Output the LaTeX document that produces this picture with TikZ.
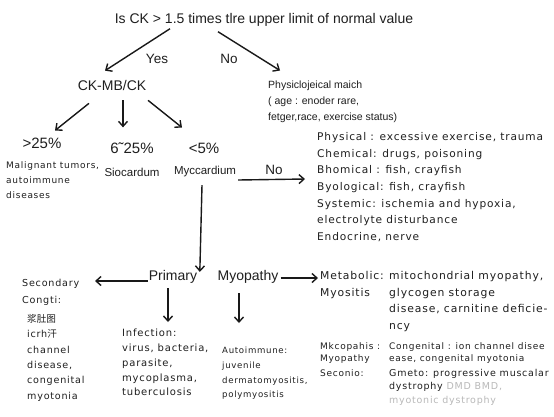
\documentclass[tikz,border=0pt]{standalone}
\usepackage{fontspec}
\setmainfont{DejaVu Sans}
\newfontfamily\lib{Liberation Sans}
\newfontfamily\dv[LetterSpace=8]{DejaVu Sans}
\newfontfamily\cjk{Noto Sans CJK SC}
\usetikzlibrary{arrows.meta}
\begin{document}
\begin{tikzpicture}[x=1pt,y=-1pt,
  every node/.style={inner sep=0pt, text=black!88},
  arr/.style={line width=1.4pt, black!90, -{Straight Barb[length=5pt,width=9pt]}},
  hd/.style={font=\lib\fontsize{14}{16}\selectfont},
  lbA/.style={font=\lib\fontsize{13.5}{16}\selectfont},
  lbB/.style={font=\lib\fontsize{11.5}{14}\selectfont},
  pct/.style={font=\lib\fontsize{15}{17}\selectfont},
  blk/.style={anchor=north west, align=left}]
\useasboundingbox (0,0) rectangle (554,416);
\fill[white] (0,0) rectangle (554,416);

\node[hd] (title) at (264,20) {Is CK > 1.5 times tlre upper limit of normal value};
\node[lbA] (yes) at (157,59) {Yes};
\node[lbA] (no1) at (229,59) {No};
\node[hd] (ckmb) at (112,85) {CK-MB/CK};
\node[blk, font=\lib\fontsize{10.5}{16}\selectfont] (phys) at (268,80.5)
  {Physiclojeical maich\\( age : enoder rare,\\fetger,race, exercise status)};
\node[pct] (p25) at (42,143) {>25\%};
\node[pct] (p6) at (132,148) {6˜25\%};
\node[pct] (p5) at (204,148) {<5\%};
\node[blk, font=\dv\fontsize{9}{15}\selectfont] (malig) at (6,161)
  {Malignant tumors,\\autoimmune\\diseases};
\node[lbB] (sio) at (132,172) {Siocardum};
\node[lbB] (myc) at (205,172) {Myccardium};
\node[lbA] (no2) at (274,170) {No};
\node[blk, font=\dv\fontsize{10.6}{16.6}\selectfont] (causes) at (317,132.5)
  {Physical : excessive exercise, trauma\\Chemical: drugs, poisoning\\Bhomical : fish, crayfish\\Byological: fish, crayfish\\Systemic: ischemia and hypoxia,\\electrolyte disturbance\\Endocrine, nerve};
\node[hd] (prim) at (173,277) {Primary};
\node[hd] (myop) at (248,277) {Myopathy};
\node[blk, font=\dv\fontsize{9.6}{17}\selectfont] (sec) at (22,279) {Secondary\\Congti:};
\node[blk, font=\dv\fontsize{9.6}{15.4}\selectfont] (cong) at (27,314)
  {{\cjk 浆肚图}\\icrh{\cjk 汗}\\channel\\disease,\\congenital\\myotonia};
\node[blk, font=\dv\fontsize{10}{14.8}\selectfont] (inf) at (122,328.8)
  {Infection:\\virus, bacteria,\\parasite,\\mycoplasma,\\tuberculosis};
\node[blk, font=\dv\fontsize{8.6}{14.7}\selectfont] (auto) at (222,347)
  {Autoimmune:\\juvenile\\dermatomyositis,\\polymyositis};
\node[blk, font=\dv\fontsize{10.8}{16.4}\selectfont] (metab) at (320,271.5) {Metabolic:\\Myositis};
\node[blk, font=\dv\fontsize{10.8}{16.4}\selectfont] (mito) at (389,271.5)
  {mitochondrial myopathy,\\glycogen storage\\disease, carnitine deficie-\\ncy};
\node[blk, font=\dv\fontsize{9}{12.8}\selectfont] (mkco) at (320,342) {Mkcopahis :\\Myopathy};
\node[blk, font=\dv\fontsize{9}{12.8}\selectfont] (congr) at (389,342)
  {Congenital : ion channel disee\\ease, congenital myotonia};
\node[blk, font=\dv\fontsize{9}{13.5}\selectfont] (seco) at (320,369) {Seconio:};
\node[blk, font=\dv\fontsize{9.5}{13.5}\selectfont] (gen) at (389,369)
  {Gmeto: progressive muscalar\\dystrophy {\color{gray!55}DMD BMD,}\\{\color{gray!55}myotonic dystrophy}};

% connectors
\draw[arr] ([shift={(-94,2)}]title.south) -- ([shift={(-7,-9)}]ckmb.north);
\draw[arr] ([shift={(-46,5)}]title.south) -- ([shift={(12,-10)}]phys.north west);
\draw[arr] ([shift={(-23,13)}]ckmb.south) -- ([shift={(13,-7)}]p25.north);
\draw[arr] ([shift={(11,10)}]ckmb.south) -- ([shift={(-9,-15)}]p6.north);
\draw[arr] ([shift={(36,10)}]ckmb.south) -- ([shift={(-22,-15)}]p5.north);
\draw[arr] ([shift={(2,8)}]myc.east) -- ([shift={(-12,46.5)}]causes.north west);
\draw[arr] ([shift={(-3,7.6)}]myc.south) -- ([shift={(2.5,1.6)}]prim.north east);
\draw[arr] ([shift={(-1,4)}]prim.west) -- ([shift={(73,2)}]sec.north west);
\draw[arr] ([shift={(2,1)}]myop.east) -- ([shift={(-2,6.5)}]metab.north west);
\draw[arr] ([shift={(-5,4.5)}]prim.south) -- ([shift={(46,-6.8)}]inf.north west);
\draw[arr] ([shift={(-9,9.5)}]myop.south) -- ([shift={(17,-24)}]auto.north west);
\end{tikzpicture}
\end{document}
